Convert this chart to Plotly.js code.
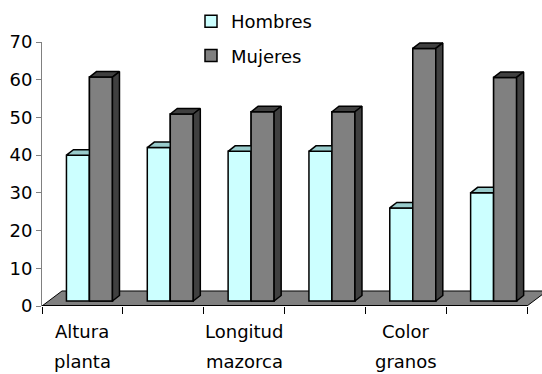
<!DOCTYPE html>
<html>
<head>
<meta charset="utf-8">
<script src="https://cdn.plot.ly/plotly-3.0.1.min.js"></script>
<style>
html,body{margin:0;padding:0;background:#fff;}
#chart{width:542px;height:374px;}
</style>
</head>
<body>
<div id="chart"></div>
<script>
// ---- data ----
const categories = ["Altura planta", "", "Longitud mazorca", "", "Color granos", ""];
const hombres = [40, 42, 41, 41, 26, 30];
const mujeres = [60.7, 50.9, 51.5, 51.5, 68.3, 60.6];
const yTicks = [0, 10, 20, 30, 40, 50, 60, 70];
const seriesNames = ["Hombres", "Mujeres"];

// ---- 3D look (axis units) ----
const W = 0.2845;   // bar width
const SX = 0.087, SY = 1.33;   // bar placement inside floor depth
const DX = 0.087, DY = 1.46;   // bar depth
const FX = 0.247, FY = 3.98;   // floor depth
const FONT = "DejaVu Sans, Arial, sans-serif";
const FS = 18;

const idx = categories.map((_, i) => i);
const n = categories.length;

const traces = [];
traces.push({
  type: "bar", name: seriesNames[0], x: idx, y: hombres.map(v => v - SY), base: SY,
  width: W, offset: SX - W, marker: {color: "#CCFFFF", line: {color: "#000", width: 1.5}},
  hoverinfo: "skip", legendgroup: "h", cliponaxis: false
});
traces.push({
  type: "bar", name: seriesNames[1], x: idx, y: mujeres.map(v => v - SY), base: SY,
  width: W, offset: SX, marker: {color: "#808080", line: {color: "#000", width: 1.5}},
  hoverinfo: "skip", legendgroup: "m", cliponaxis: false
});

function poly(xs, ys, fill) {
  traces.push({
    type: "scatter", mode: "lines", x: xs.concat([xs[0]]), y: ys.concat([ys[0]]),
    fill: "toself", fillcolor: fill, line: {color: "#000", width: 1.5},
    showlegend: false, hoverinfo: "skip", cliponaxis: false
  });
}

idx.forEach(i => {
  const h = hombres[i], m = mujeres[i];
  const x0 = i + SX - W, x1 = i + SX, x2 = i + SX + W;
  // Hombres top
  poly([x0, x1, x1 + DX, x0 + DX], [h, h, h + DY, h + DY], "#99CCCC");
  // Mujeres front (redrawn above)
  poly([x1, x2, x2, x1], [SY, SY, m, m], "#808080");
  // Mujeres top
  poly([x1, x2, x2 + DX, x1 + DX], [m, m, m + DY, m + DY], "#404040");
  // Mujeres side
  poly([x2, x2 + DX, x2 + DX, x2], [SY, SY + DY, m + DY, m], "#404040");
});

const xmin = -0.5, xmax = n - 0.5;
const floorPath = `M${xmin},0 L${xmax},0 L${xmax + FX},${FY} L${xmin + FX},${FY} Z`;

const annotations = [];
categories.forEach((c, i) => {
  if (!c) return;
  const parts = c.split(" ");
  parts.forEach((p, k) => {
    annotations.push({
      x: i, xref: "x", y: k === 0 ? -0.0973 : -0.211, yref: "paper",
      text: p, showarrow: false, xanchor: "center", yanchor: "middle",
      font: {family: FONT, size: FS, color: "#000"}
    });
  });
});

const layout = {
  width: 542, height: 374,
  margin: {l: 42, r: 0, t: 42, b: 68},
  paper_bgcolor: "#fff", plot_bgcolor: "rgba(0,0,0,0)",
  barmode: "overlay",
  showlegend: true,
  legend: {
    x: 0.298, y: 1.148, xanchor: "left", yanchor: "top",
    font: {family: FONT, size: FS, color: "#000"},
    traceorder: "grouped", tracegroupgap: 8, bgcolor: "rgba(0,0,0,0)"
  },
  xaxis: {
    range: [xmin, xmax + 15 / 80.83], showgrid: false, zeroline: false, showline: false,
    tickmode: "array", tickvals: idx.map(i => i - 0.5).concat([xmax]),
    ticks: "outside", ticklen: 7, tickcolor: "#000", tickwidth: 1,
    showticklabels: false, fixedrange: true
  },
  yaxis: {
    range: [0, 70], showgrid: false, zeroline: false, showline: true,
    linecolor: "#808080", linewidth: 1,
    tickmode: "array", tickvals: yTicks, ticks: "outside", ticklen: 5,
    tickcolor: "#808080", tickfont: {family: FONT, size: FS, color: "#000"},
    fixedrange: true
  },
  shapes: [
    {type: "path", xref: "x", yref: "y", path: floorPath, layer: "below",
     fillcolor: "#808080", line: {color: "#000", width: 1}},
    {type: "line", xref: "x", yref: "y", x0: xmin, x1: xmax, y0: 0, y1: 0,
     layer: "below", line: {color: "#000", width: 2}}
  ],
  annotations: annotations
};

Plotly.newPlot("chart", traces, layout, {displayModeBar: false, staticPlot: true});
</script>
</body>
</html>
